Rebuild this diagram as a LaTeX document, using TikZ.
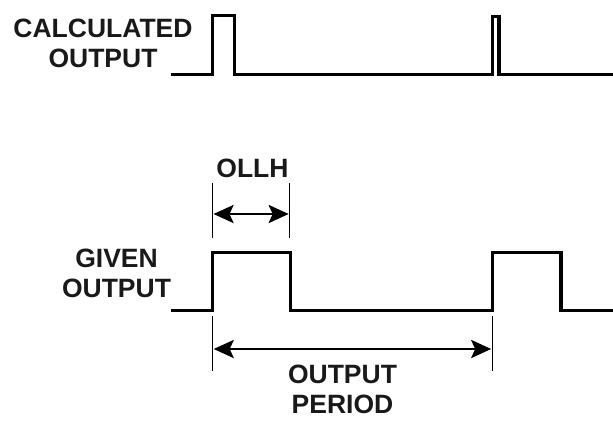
\documentclass[tikz,border=0pt]{standalone}
\usepackage{fontspec}
\setmainfont{Liberation Sans}
\usetikzlibrary{arrows.meta}
\begin{document}
\begin{tikzpicture}[x=1pt,y=-1pt,
  wave/.style={line width=3.4pt, line join=miter},
  tick/.style={line width=0.9pt},
  dim/.style={line width=2.8pt, {Stealth[length=20pt,width=18pt,inset=4pt]}-{Stealth[length=20pt,width=18pt,inset=4pt]}},
  lbl/.style={font=\fontsize{26.5}{30}\selectfont\bfseries, align=center, inner sep=0pt, text=black!90}]
\useasboundingbox (0,0) rectangle (613,428);
% calculated output
\draw[wave] (171,74.5) -- (212.5,74.5) -- (212.5,15.7) -- (234.5,15.7) -- (234.5,74.5) -- (492.5,74.5) -- (492.5,16.5) -- (499,16.5) -- (499,74.5) -- (613,74.5);
% given output
\draw[wave] (171,310.7) -- (212.5,310.7) -- (212.5,252.2) -- (290.5,252.2) -- (290.5,310.7) -- (492.5,310.7) -- (492.5,252.2) -- (561,252.2) -- (561,310.7) -- (613,310.7);
% ticks
\coordinate (t1a) at (212.4,183);
\coordinate (t1b) at (212.4,238);
\coordinate (t2a) at (289.8,183);
\coordinate (t2b) at (289.8,238);
\coordinate (t3a) at (212.6,316);
\coordinate (t3b) at (212.6,371);
\coordinate (t4a) at (492.3,316);
\coordinate (t4b) at (492.3,371);
\draw[tick] (t1a) -- (t1b);
\draw[tick] (t2a) -- (t2b);
\draw[tick] (t3a) -- (t3b);
\draw[tick] (t4a) -- (t4b);
\coordinate (a1) at (213.5,214);
\coordinate (a2) at (288.7,214);
\coordinate (b1) at (213.7,349);
\coordinate (b2) at (491.2,349);
\draw[dim] (a1) -- (a2);
\draw[dim] (b1) -- (b2);
% labels
\node[lbl, anchor=base] (calc) at (103,67) {CALCULATED\\OUTPUT};
\node[lbl, anchor=base] (given) at (116.5,297) {GIVEN\\OUTPUT};
\node[lbl, anchor=base] (ollh) at (252.5,177) {OLLH};
\node[lbl, anchor=base] (period) at (342.5,413) {OUTPUT\\PERIOD};
\end{tikzpicture}
\end{document}
